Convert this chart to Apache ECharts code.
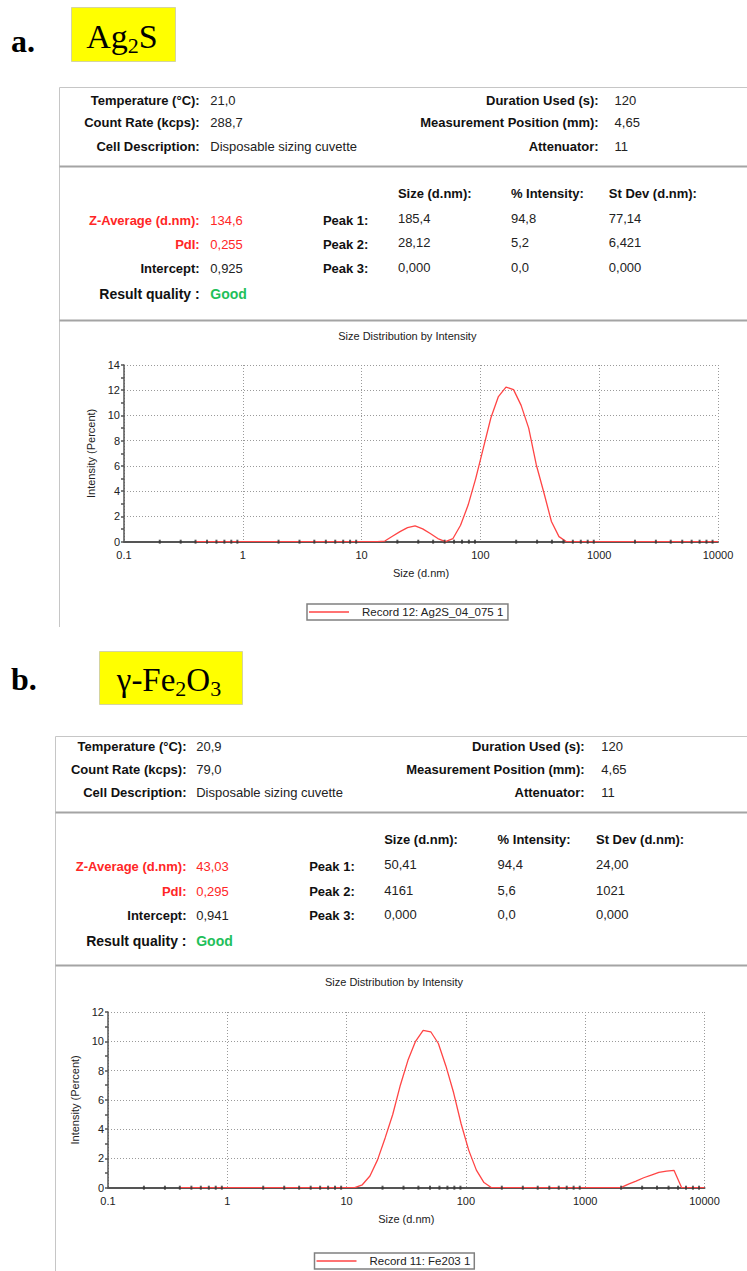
<!DOCTYPE html>
<html><head><meta charset="utf-8">
<script src="https://cdn.jsdelivr.net/npm/echarts@6/dist/echarts.min.js"></script>
<style>html,body{margin:0;padding:0;background:#fff}#c{width:747px;height:1271px}</style>
</head><body><div id="c"></div>
<script>
// ---- data ----
const sizes = [0.4, 0.4632, 0.5365, 0.6213, 0.7195, 0.8332, 0.9649, 1.117, 1.294, 1.499,
  1.736, 2.010, 2.328, 2.696, 3.122, 3.615, 4.187, 4.849, 5.615, 6.503,
  7.531, 8.721, 10.10, 11.70, 13.54, 15.69, 18.17, 21.04, 24.36, 28.21,
  32.67, 37.84, 43.82, 50.75, 58.77, 68.06, 78.82, 91.28, 105.7, 122.4,
  141.8, 164.2, 190.1, 220.2, 255.0, 295.3, 342.0, 396.1, 458.7, 531.2,
  615.1, 712.4, 825.0, 955.4, 1106, 1281, 1484, 1718, 1990, 2305,
  2669, 3091, 3580, 4145, 4801, 5560, 6439, 7456, 8635, 10000];
const ag2sIntensity = [0, 0, 0, 0, 0, 0, 0, 0, 0, 0,
  0, 0, 0, 0, 0, 0, 0, 0, 0, 0,
  0, 0, 0, 0, 0, 0.05, 0.43, 0.8, 1.12, 1.26,
  1.02, 0.65, 0.25, 0, 0.25, 1.3, 2.9, 5.0, 7.4, 9.8,
  11.5, 12.25, 12.05, 10.8, 9.0, 6.1, 3.9, 1.6, 0.4, 0,
  0, 0, 0, 0, 0, 0, 0, 0, 0, 0,
  0, 0, 0, 0, 0, 0, 0, 0, 0, 0];
const fe2o3Intensity = [0, 0, 0, 0, 0, 0, 0, 0, 0, 0,
  0, 0, 0, 0, 0, 0, 0, 0, 0, 0,
  0, 0, 0, 0, 0.2, 0.8, 1.9, 3.4, 5.0, 7.0,
  8.7, 10.0, 10.75, 10.65, 9.85, 8.3, 6.5, 4.35, 2.55, 1.2,
  0.35, 0, 0, 0, 0, 0, 0, 0, 0, 0,
  0, 0, 0, 0, 0, 0, 0, 0, 0, 0.25,
  0.45, 0.68, 0.86, 1.04, 1.13, 1.18, 0, 0, 0, 0];
const xMinorTicks = [0.2, 0.3, 0.4, 0.5, 0.6, 0.7, 0.8, 0.9,
  2, 3, 4, 5, 6, 7, 8, 9,
  20, 30, 40, 50, 60, 70, 80, 90,
  200, 300, 400, 500, 600, 700, 800, 900,
  2000, 3000, 4000, 5000, 6000, 7000, 8000, 9000];
const xTickLabels = ['0.1', '1', '10', '100', '1000', '10000'];
const legendA = 'Record 12: Ag2S_04_075 1';
const legendB = 'Record 11: Fe203 1';

// ---- table texts ----
const infoLabels = ['Temperature (°C):', 'Count Rate (kcps):', 'Cell Description:'];
const infoValuesA = ['21,0', '288,7', 'Disposable sizing cuvette'];
const infoValuesB = ['20,9', '79,0', 'Disposable sizing cuvette'];
const infoLabelsR = ['Duration Used (s):', 'Measurement Position (mm):', 'Attenuator:'];
const infoValuesRA = ['120', '4,65', '11'];
const infoValuesRB = ['120', '4,65', '11'];
const peakHeaders = ['Size (d.nm):', '% Intensity:', 'St Dev (d.nm):'];
const peakLabels = ['Peak 1:', 'Peak 2:', 'Peak 3:'];
const peaksA = [['185,4', '94,8', '77,14'], ['28,12', '5,2', '6,421'], ['0,000', '0,0', '0,000']];
const peaksB = [['50,41', '94,4', '24,00'], ['4161', '5,6', '1021'], ['0,000', '0,0', '0,000']];
const summaryLabels = ['Z-Average (d.nm):', 'PdI:', 'Intercept:'];
const summaryA = ['134,6', '0,255', '0,925'];
const summaryB = ['43,03', '0,295', '0,941'];
const qualityLabel = 'Result quality :';
const qualityA = 'Good';
const qualityB = 'Good';
const chartTitle = 'Size Distribution by Intensity';

// ---- helpers ----
const SANS = '"Liberation Sans", Arial, sans-serif';
const SERIF = '"Liberation Serif", "Times New Roman", serif';
const RED = '#ff2626', GREEN = '#1fc05a';
function T(x, y, text, o) {
  o = o || {};
  const align = o.align || 'left';
  return {type: 'text', x: x, y: y, silent: true, z: 10,
    style: {text: text, fill: o.color || '#111',
      font: (o.bold ? 'bold ' : '') + (o.size || 13) + 'px ' + (o.family || SANS),
      align: align, verticalAlign: 'middle', textAlign: align, textVerticalAlign: 'middle'}};
}
function L(x1, y1, x2, y2, color, w) {
  return {type: 'line', silent: true, z: 1, shape: {x1: x1, y1: y1, x2: x2, y2: y2},
    style: {stroke: color, lineWidth: w}};
}
function panel(p) {
  const g = [];
  // box lines
  g.push(L(p.boxX, p.boxTop, 747, p.boxTop, '#c6c6c6', 1));
  g.push(L(p.boxX, p.boxTop, p.boxX, p.boxBottom, '#c6c6c6', 1));
  g.push(L(p.boxX, p.sep1, 747, p.sep1, '#a4a4a4', 2));
  g.push(L(p.boxX, p.sep2, 747, p.sep2, '#a4a4a4', 2));
  for (let i = 0; i < 3; i++) {
    g.push(T(p.colon, p.rows1[i], infoLabels[i], {bold: true, align: 'right'}));
    g.push(T(p.val, p.rows1[i], p.infoValues[i], {color: '#222'}));
    g.push(T(p.rColon, p.rows1[i], infoLabelsR[i], {bold: true, align: 'right'}));
    g.push(T(p.rVal, p.rows1[i], p.infoValuesR[i], {color: '#222'}));
  }
  for (let j = 0; j < 3; j++) g.push(T(p.cols[j], p.header, peakHeaders[j], {bold: true}));
  for (let i = 0; i < 3; i++) {
    const red = i < 2;
    g.push(T(p.colon, p.rows2[i], summaryLabels[i], {bold: true, align: 'right', color: red ? RED : '#111'}));
    g.push(T(p.val, p.rows2[i], p.summary[i], {color: red ? RED : '#222'}));
    g.push(T(p.peakX, p.rows2[i], peakLabels[i], {bold: true}));
    for (let j = 0; j < 3; j++) g.push(T(p.cols[j], p.rows2[i] - 1.5, p.peaks[i][j], {color: '#222'}));
  }
  g.push(T(p.colon, p.quality, qualityLabel, {bold: true, align: 'right', size: 14}));
  g.push(T(p.val, p.quality, p.qualityValue, {bold: true, color: GREEN, size: 14}));
  g.push(T(p.titleX, p.titleY, chartTitle, {align: 'center', size: 11, color: '#222'}));
  return g;
}

const graphics = [];
// headers
graphics.push({type: 'rect', silent: true, shape: {x: 71.5, y: 7.5, width: 104, height: 54},
  style: {fill: '#ffff00', stroke: '#d4d4a0', lineWidth: 1}});
graphics.push({type: 'rect', silent: true, shape: {x: 99.5, y: 651.5, width: 143, height: 53},
  style: {fill: '#ffff00', stroke: '#d4d4a0', lineWidth: 1}});
graphics.push(T(11, 41, 'a.', {bold: true, size: 32, family: SERIF, color: '#000'}));
graphics.push(T(11, 679, 'b.', {bold: true, size: 32, family: SERIF, color: '#000'}));
const richSub = {
  n: {fontSize: 34, fontFamily: SERIF, lineHeight: 40, verticalAlign: 'middle', color: '#000'},
  s: {fontSize: 22, fontFamily: SERIF, lineHeight: 22, verticalAlign: 'bottom', color: '#000'}
};
graphics.push({type: 'text', x: 122, y: 36.5, silent: true, z: 10,
  style: {text: '{n|Ag}{s|2}{n|S}', rich: richSub, align: 'center', verticalAlign: 'middle',
    textAlign: 'center', textVerticalAlign: 'middle'}});
graphics.push({type: 'text', x: 169, y: 679.5, silent: true, z: 10,
  style: {text: '{n|γ-Fe}{s|2}{n|O}{s|3}', rich: {
      n: {fontSize: 33, fontFamily: SERIF, lineHeight: 40, verticalAlign: 'middle', color: '#000'},
      s: {fontSize: 22, fontFamily: SERIF, lineHeight: 22, verticalAlign: 'bottom', color: '#000'}},
    align: 'center', verticalAlign: 'middle', textAlign: 'center', textVerticalAlign: 'middle'}});

graphics.push(...panel({boxX: 59.5, boxTop: 87.5, boxBottom: 627, sep1: 166.5, sep2: 320.5,
  colon: 199.7, val: 210.3, rColon: 598.7, rVal: 614.6, peakX: 322.9, cols: [397.9, 510.9, 608.8],
  rows1: [100.7, 122.3, 146], header: 193.7, rows2: [220, 244.3, 268.7], quality: 294.3,
  infoValues: infoValuesA, infoValuesR: infoValuesRA, summary: summaryA, peaks: peaksA, qualityValue: qualityA,
  titleX: 407.3, titleY: 336}));
graphics.push(...panel({boxX: 55.5, boxTop: 736.5, boxBottom: 1271, sep1: 812.5, sep2: 965.5,
  colon: 186.5, val: 196.2, rColon: 584.6, rVal: 601.3, peakX: 309.2, cols: [384.2, 497.6, 596],
  rows1: [746.7, 769, 792], header: 839.3, rows2: [866, 891.7, 915.7], quality: 941,
  infoValues: infoValuesB, infoValuesR: infoValuesRB, summary: summaryB, peaks: peaksB, qualityValue: qualityB,
  titleX: 394, titleY: 982.3}));

function xAxisCfg(gridIndex) {
  return {type: 'log', logBase: 10, gridIndex: gridIndex, min: 0.1, max: 10000, splitNumber: 5,
    axisLine: {show: true, onZero: false, lineStyle: {color: '#555', width: 2}},
    axisTick: {show: false},
    axisLabel: {fontSize: 11, color: '#222', fontFamily: SANS, margin: 8,
      formatter: function (v) { const i = Math.round(Math.log10(v)) + 1; return xTickLabels[i] || ''; }},
    splitLine: {show: true, lineStyle: {color: '#9a9a9a', width: 1, type: [1, 2]}},
    name: 'Size (d.nm)', nameLocation: 'middle', nameGap: 26,
    nameTextStyle: {fontSize: 11, color: '#222', fontFamily: SANS}};
}
function yAxisCfg(gridIndex, max) {
  return {type: 'value', gridIndex: gridIndex, min: 0, max: max, interval: 2,
    axisLine: {show: true, lineStyle: {color: '#555', width: 1.5}},
    axisTick: {show: true, length: 3, lineStyle: {color: '#555', width: 1.5}},
    minorTick: {show: true, splitNumber: 2, length: 3, lineStyle: {color: '#555', width: 1.5}},
    axisLabel: {fontSize: 11, color: '#222', fontFamily: SANS, margin: 4},
    splitLine: {show: true, lineStyle: {color: '#9a9a9a', width: 1, type: [1, 2]}},
    name: 'Intensity (Percent)', nameLocation: 'middle', nameGap: 22,
    nameTextStyle: {fontSize: 11, color: '#222', fontFamily: SANS}};
}
function legendCfg(name, left, top) {
  return {data: [name], left: left, top: top, orient: 'horizontal', selectedMode: false,
    padding: [2, 4, 2, 2], itemWidth: 40, itemHeight: 1.5, icon: 'rect',
    borderColor: '#808080', borderWidth: 1.5, borderRadius: 0,
    textStyle: {fontSize: 11.5, color: '#222', fontFamily: SANS, padding: [0, 0, 0, 8]}};
}
const lineStyleRed = {color: '#ff4545', width: 1.3};

const option = {
  animation: false,
  backgroundColor: '#fff',
  graphic: graphics,
  grid: [
    {left: 124, top: 365, width: 594, height: 176.7},
    {left: 108, top: 1012, width: 596.5, height: 175.7}
  ],
  xAxis: [xAxisCfg(0), xAxisCfg(1)],
  yAxis: [yAxisCfg(0, 14), yAxisCfg(1, 12)],
  legend: [legendCfg(legendA, 307, 604), legendCfg(legendB, 314.5, 1253)],
  series: [
    {name: legendA, type: 'line', xAxisIndex: 0, yAxisIndex: 0, showSymbol: false, symbol: 'none',
      color: '#ff4545', lineStyle: lineStyleRed, z: 3,
      data: sizes.map((s, i) => [s, ag2sIntensity[i]])},
    {name: legendB, type: 'line', xAxisIndex: 1, yAxisIndex: 1, showSymbol: false, symbol: 'none',
      color: '#ff4545', lineStyle: lineStyleRed, z: 3,
      data: sizes.map((s, i) => [s, fe2o3Intensity[i]])},
    {name: 'ticksA', type: 'scatter', xAxisIndex: 0, yAxisIndex: 0, symbol: 'rect', symbolSize: [2, 4],
      itemStyle: {color: '#333'}, silent: true, z: 5, clip: false,
      data: xMinorTicks.map(v => [v, 0])},
    {name: 'ticksB', type: 'scatter', xAxisIndex: 1, yAxisIndex: 1, symbol: 'rect', symbolSize: [2, 4],
      itemStyle: {color: '#333'}, silent: true, z: 5, clip: false,
      data: xMinorTicks.map(v => [v, 0])}
  ]
};
const chart = echarts.init(document.getElementById('c'), null, {renderer: 'svg', width: 747, height: 1271});
chart.setOption(option);
</script>
</body></html>
